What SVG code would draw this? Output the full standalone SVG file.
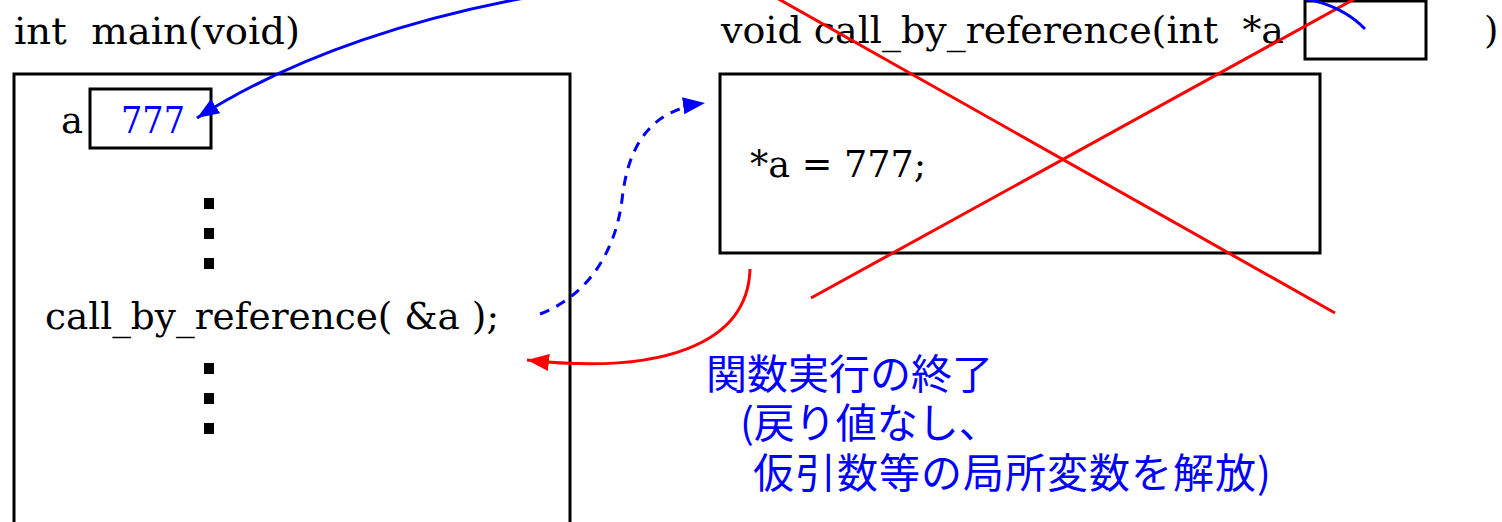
<svg xmlns="http://www.w3.org/2000/svg" width="1502" height="522" viewBox="0 0 1502 522">
<style>
  .code{font-family:"DejaVu Serif","Liberation Serif",serif;font-size:37px;fill:#000}
  .val{fill:#0000ff}
  .box{fill:none;stroke:#000;stroke-width:3}
  .dot{fill:#000}
  .jp{font-family:"Noto Sans CJK JP","Noto Sans",sans-serif;font-size:41px;fill:#0000ff}
  .blue{fill:none;stroke:#0000ff;stroke-width:3}
  .dash{stroke-dasharray:10 8}
  .red{fill:none;stroke:#ff0000;stroke-width:3}
</style>
<defs>
  <marker id="ahB" markerUnits="userSpaceOnUse" markerWidth="24" markerHeight="18" refX="22" refY="8.5" orient="auto">
    <path d="M0,0 L22,8.5 L0,17 Z" fill="#0000ff"/>
  </marker>
  <marker id="ahR" markerUnits="userSpaceOnUse" markerWidth="24" markerHeight="18" refX="22" refY="8.5" orient="auto">
    <path d="M0,0 L22,8.5 L0,17 Z" fill="#ff0000"/>
  </marker>
</defs>

<g id="main">
  <text class="code" x="14" y="44" xml:space="preserve" textLength="286" lengthAdjust="spacingAndGlyphs">int  main(void)</text>
  <rect class="box" x="14" y="74" width="556" height="470"/>
  <text class="code" x="61" y="133">a</text>
  <rect class="box" x="90" y="89" width="121" height="59"/>
  <text class="code val" x="121" y="133" textLength="64" lengthAdjust="spacingAndGlyphs">777</text>
  <rect class="dot" x="204" y="198" width="10" height="11"/>
  <rect class="dot" x="204" y="228" width="10" height="11"/>
  <rect class="dot" x="204" y="258" width="10" height="11"/>
  <text class="code" x="45" y="329" xml:space="preserve" textLength="454" lengthAdjust="spacingAndGlyphs">call_by_reference( &amp;a );</text>
  <rect class="dot" x="204" y="363" width="10" height="11"/>
  <rect class="dot" x="204" y="393" width="10" height="11"/>
  <rect class="dot" x="204" y="423" width="10" height="11"/>
</g>

<g id="callee">
  <text class="code" x="721" y="43" xml:space="preserve" textLength="563" lengthAdjust="spacingAndGlyphs">void call_by_reference(int  *a</text>
  <rect class="box" x="1305" y="1" width="121" height="58"/>
  <text class="code" x="1484" y="43">)</text>
  <rect class="box" x="720" y="74" width="600" height="179"/>
  <text class="code" x="750" y="177" xml:space="preserve" textLength="176" lengthAdjust="spacingAndGlyphs">*a = 777;</text>
</g>

<g id="cross">
  <line class="red" x1="775" y1="-3" x2="1335" y2="313"/>
  <line class="red" x1="1358" y1="-3" x2="811" y2="298"/>
</g>

<g id="note">
  <text class="jp" x="706" y="389">関数実行の終了</text>
  <text class="jp" x="740" y="438">(戻り値なし、</text>
  <text class="jp" x="753" y="488" style="letter-spacing:1px">仮引数等の局所変数を解放)</text>
</g>

<g id="connectors">
  <path class="blue" d="M1365,29 Q1340,3 1295,-3 C1150,-25 700,-30 530,-3 C425,16 300,52 197,118" marker-end="url(#ahB)"/>
  <path class="blue dash" d="M540,314 C585,297 615,255 622,200 C628,145 650,110 705,103" marker-end="url(#ahB)"/>
  <path class="red" d="M750,269 C748,345 660,375 527,360" marker-end="url(#ahR)"/>
</g>
</svg>
